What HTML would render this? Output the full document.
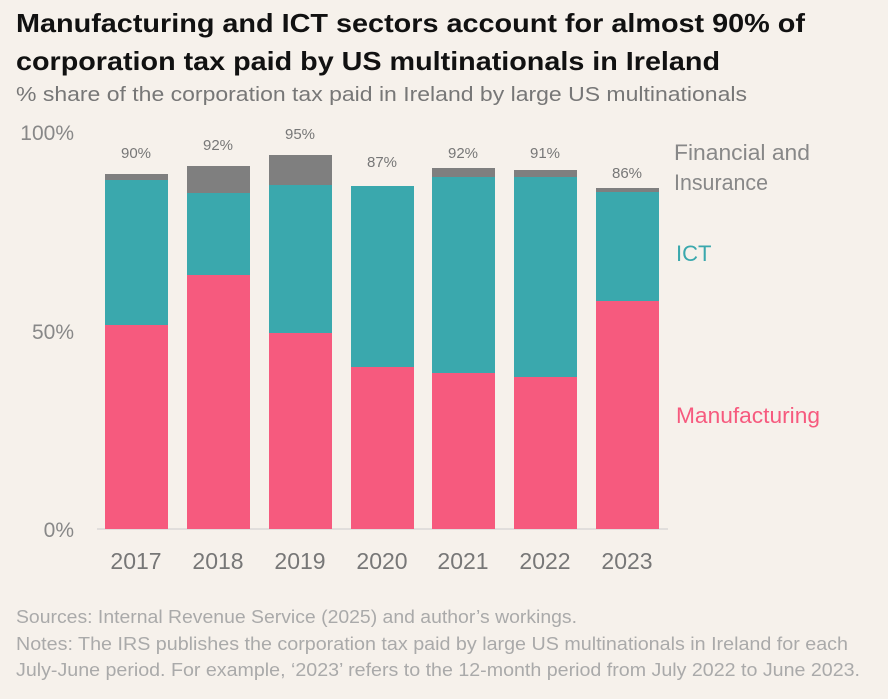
<!DOCTYPE html>
<html><head><meta charset="utf-8"><style>
body{margin:0;background:#f6f1eb;}
svg{display:block;font-family:"Liberation Sans",sans-serif;}
</style></head><body>
<svg width="888" height="699" viewBox="0 0 888 699">
<rect width="888" height="699" fill="#f6f1eb"/>
<text x="16" y="32" font-size="26" font-weight="bold" fill="#111" textLength="789" lengthAdjust="spacingAndGlyphs">Manufacturing and ICT sectors account for almost 90% of</text>
<text x="16" y="70" font-size="26" font-weight="bold" fill="#111" textLength="704" lengthAdjust="spacingAndGlyphs">corporation tax paid by US multinationals in Ireland</text>
<text x="16" y="101" font-size="20" fill="#777" textLength="731" lengthAdjust="spacingAndGlyphs">% share of the corporation tax paid in Ireland by large US multinationals</text>
<g font-size="21" fill="#888" text-anchor="end">
<text x="74" y="140">100%</text><text x="74" y="339">50%</text><text x="74" y="537">0%</text>
</g>
<line x1="97" y1="529" x2="668" y2="529" stroke="#ccc" stroke-width="1"/>
<g>
<rect x="105" y="325" width="63" height="204" fill="#f65a7e"/><rect x="105" y="180" width="63" height="145" fill="#3aa8ad"/><rect x="105" y="174" width="63" height="6" fill="#7f7f7f"/>
<rect x="187" y="275" width="63" height="254" fill="#f65a7e"/><rect x="187" y="193" width="63" height="82" fill="#3aa8ad"/><rect x="187" y="166" width="63" height="27" fill="#7f7f7f"/>
<rect x="269" y="333" width="63" height="196" fill="#f65a7e"/><rect x="269" y="185" width="63" height="148" fill="#3aa8ad"/><rect x="269" y="155" width="63" height="30" fill="#7f7f7f"/>
<rect x="351" y="367" width="63" height="162" fill="#f65a7e"/><rect x="351" y="186" width="63" height="181" fill="#3aa8ad"/>
<rect x="432" y="373" width="63" height="156" fill="#f65a7e"/><rect x="432" y="177" width="63" height="196" fill="#3aa8ad"/><rect x="432" y="168" width="63" height="9" fill="#7f7f7f"/>
<rect x="514" y="377" width="63" height="152" fill="#f65a7e"/><rect x="514" y="177" width="63" height="200" fill="#3aa8ad"/><rect x="514" y="170" width="63" height="7" fill="#7f7f7f"/>
<rect x="596" y="301" width="63" height="228" fill="#f65a7e"/><rect x="596" y="192" width="63" height="109" fill="#3aa8ad"/><rect x="596" y="188" width="63" height="4" fill="#7f7f7f"/>
</g>
<g font-size="15" fill="#777" text-anchor="middle">
<text x="136" y="158">90%</text><text x="218" y="150">92%</text><text x="300" y="139">95%</text><text x="382" y="167">87%</text><text x="463" y="158">92%</text><text x="545" y="158">91%</text><text x="627" y="178">86%</text>
</g>
<g font-size="23" fill="#777" text-anchor="middle">
<text x="136" y="569">2017</text><text x="218" y="569">2018</text><text x="300" y="569">2019</text><text x="382" y="569">2020</text><text x="463" y="569">2021</text><text x="545" y="569">2022</text><text x="627" y="569">2023</text>
</g>
<text x="674" y="160" font-size="22" fill="#888" textLength="136" lengthAdjust="spacingAndGlyphs">Financial and</text>
<text x="674" y="190" font-size="22" fill="#888" textLength="94" lengthAdjust="spacingAndGlyphs">Insurance</text>
<text x="676" y="261" font-size="22" fill="#3aa8ad">ICT</text>
<text x="676" y="423" font-size="22" fill="#f65a7e" textLength="144" lengthAdjust="spacingAndGlyphs">Manufacturing</text>
<g font-size="18" fill="#aaa">
<text x="16" y="623" textLength="561" lengthAdjust="spacingAndGlyphs">Sources: Internal Revenue Service (2025) and author’s workings.</text>
<text x="16" y="650" textLength="832" lengthAdjust="spacingAndGlyphs">Notes: The IRS publishes the corporation tax paid by large US multinationals in Ireland for each</text>
<text x="16" y="676" textLength="844" lengthAdjust="spacingAndGlyphs">July-June period. For example, ‘2023’ refers to the 12-month period from July 2022 to June 2023.</text>
</g>
</svg>
</body></html>
